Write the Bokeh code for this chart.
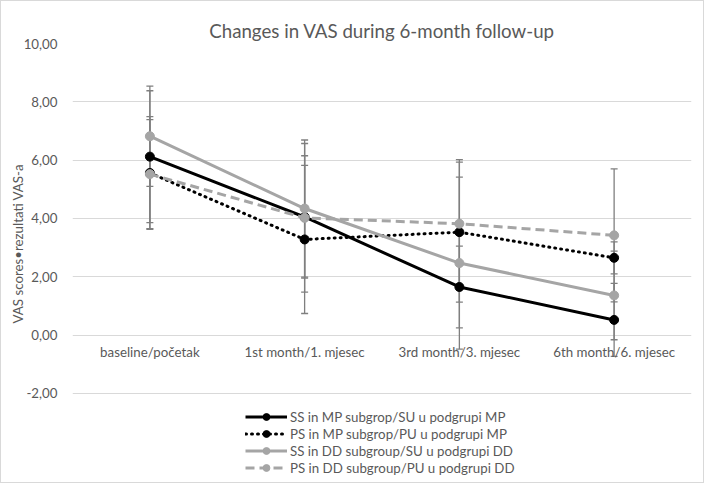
from bokeh.plotting import figure
from bokeh.models import (ColumnDataSource, Whisker, TeeHead, Legend, LegendItem,
                          FixedTicker, FactorRange, Range1d, Title)
from bokeh.core.properties import value
from bokeh.embed import file_html
from bokeh.resources import INLINE

# ---- data ----
cats = ["baseline/početak", "1st month/1. mjesec", "3rd month/3. mjesec", "6th month/6. mjesec"]
ss_mp = [6.12, 4.05, 1.65, 0.52]
ps_mp = [5.56, 3.28, 3.53, 2.65]
ss_dd = [6.82, 4.34, 2.47, 1.36]
ps_dd = [5.52, 4.02, 3.82, 3.42]
sd_ss_mp = [2.26, 2.10, 1.40, 1.25]
sd_ps_mp = [1.93, 2.54, 2.40, 0.55]
sd_ss_dd = [1.72, 2.35, 2.95, 1.52]
sd_ps_dd = [1.87, 2.55, 2.20, 2.28]
y_ticks = [-2, 0, 2, 4, 6, 8, 10]
y_tick_labels = ["-2,00", "0,00", "2,00", "4,00", "6,00", "8,00", "10,00"]
series_names = ["SS in MP subgrop/SU u podgrupi MP",
                "PS in MP subgrop/PU u podgrupi MP",
                "SS in DD subgroup/SU u podgrupi DD",
                "PS in DD subgroup/PU u podgrupi DD"]
title_text = "Changes in VAS during 6-month follow-up"
y_label = "VAS scores•rezultati VAS-a"

FONT = "Lato"
TXT = "#595959"
GRID = "#d9d9d9"

p = figure(width=704, height=483, x_range=FactorRange(*cats), y_range=Range1d(-4.85, 10),
           output_backend="svg", toolbar_location=None,
           min_border_left=71, min_border_right=14, min_border_top=42, min_border_bottom=8)
p.styles = {"border": "1px solid #d9d9d9"}
p.outline_line_color = None
p.background_fill_color = "white"

p.title.text = title_text
p.title.align = "center"
p.title.text_font = FONT
p.title.text_font_size = "18.7px"
p.title.text_font_style = "normal"
p.title.text_color = TXT
p.title.standoff = 3

# y axis
p.yaxis.ticker = FixedTicker(ticks=y_ticks)
p.yaxis.major_label_overrides = {t: l for t, l in zip(y_ticks, y_tick_labels)}
p.yaxis.axis_line_color = None
p.yaxis.major_tick_line_color = None
p.yaxis.minor_tick_line_color = None
p.yaxis.major_label_text_font = FONT
p.yaxis.major_label_text_font_size = "13.3px"
p.yaxis.major_label_text_color = TXT
p.yaxis.major_label_standoff = 9
p.ygrid.grid_line_color = GRID
p.ygrid.ticker = FixedTicker(ticks=y_ticks)
p.xgrid.grid_line_color = None
p.xaxis.visible = False

ytitle = Title(text=y_label, align="left", offset=153, text_font=FONT,
               text_font_size="13.3px", text_font_style="normal", text_color=TXT,
               standoff=-10)
p.add_layout(ytitle, "left")

# category labels just under the 0 line
lab_src = ColumnDataSource(dict(x=cats, y=[0] * len(cats), t=cats))
p.text("x", "y", text="t", source=lab_src, text_font=value(FONT), text_font_size="13.3px",
       text_color=TXT, text_align="center", text_baseline="top", y_offset=9)

means = [ss_mp, ps_mp, ss_dd, ps_dd]
sds = [sd_ss_mp, sd_ps_mp, sd_ss_dd, sd_ps_dd]
colors = ["#000000", "#000000", "#a5a5a5", "#a5a5a5"]
dashes = ["solid", "1 5", "solid", "9 5"]
caps = ["butt", "round", "butt", "butt"]

# error bars
for m, s in zip(means, sds):
    src = ColumnDataSource(dict(x=cats, lo=[a - b for a, b in zip(m, s)],
                                hi=[a + b for a, b in zip(m, s)]))
    w = Whisker(source=src, base="x", lower="lo", upper="hi",
                line_color="#7f7f7f", line_width=1.3,
                upper_head=TeeHead(size=7, line_color="#7f7f7f", line_width=1.3),
                lower_head=TeeHead(size=7, line_color="#7f7f7f", line_width=1.3),
                level="underlay")
    p.add_layout(w)

items = []
for name, m, c, d, cp in zip(series_names, means, colors, dashes, caps):
    src = ColumnDataSource(dict(x=cats, y=m))
    r1 = p.line("x", "y", source=src, line_color=c, line_width=3, line_dash=d, line_cap=cp)
    r2 = p.scatter("x", "y", source=src, size=9, fill_color=c, line_color=c, marker="circle")
    items.append(LegendItem(label=name, renderers=[r1, r2]))

legend = Legend(items=items, location=(173, 0), orientation="vertical",
                glyph_width=42, glyph_height=17, label_height=17, spacing=0,
                label_text_font=FONT, label_text_font_size="13.3px", label_text_color=TXT,
                label_standoff=3, padding=0, margin=0, border_line_color=None,
                background_fill_alpha=0)
p.add_layout(legend, "center")

open("out.html", "w").write(file_html(p, INLINE))
